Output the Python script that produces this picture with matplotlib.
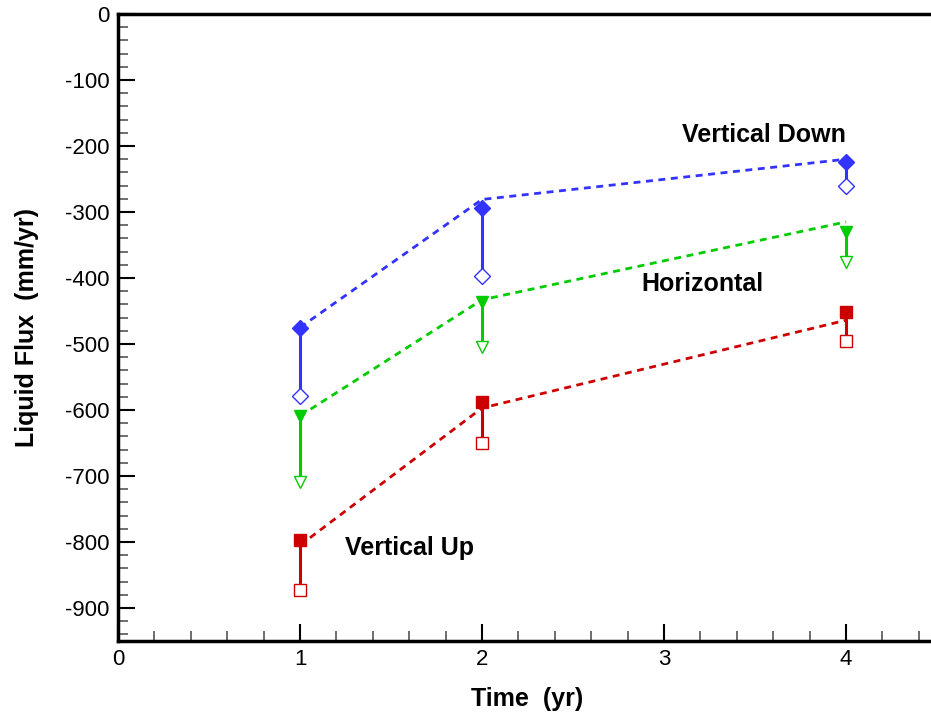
import matplotlib.pyplot as plt
import numpy as np
from matplotlib.ticker import MultipleLocator

plt.rcParams['font.family'] = ['Liberation Sans', 'DejaVu Sans']
plt.rcParams['axes.unicode_minus'] = False

times = [1, 2, 4]
labels = ['Vertical Down', 'Horizontal', 'Vertical Up']
colors = ['#3333ff', '#00cc00', '#cc0000']

# dashed trend line values
down_line = [-475, -281, -220]
horiz_line = [-609, -433, -315]
up_line = [-805, -597, -464]
# filled (upper) markers
down_filled = [-476, -294, -224]
horiz_filled = [-609, -436, -330]
up_filled = [-797, -588, -452]
# open (lower) markers
down_open = [-579, -397, -261]
horiz_open = [-709, -505, -376]
up_open = [-873, -650, -495]

fig = plt.figure(figsize=(9.31, 7.13), dpi=100)
ax = fig.add_axes([118 / 931, 72 / 713, (937 - 118) / 931, (641 - 14) / 713])

series = [
    (down_line, down_filled, down_open, 'D'),
    (horiz_line, horiz_filled, horiz_open, 'v'),
    (up_line, up_filled, up_open, 's'),
]
for (line, filled, opn, m), c in zip(series, colors):
    ax.plot(times, line, color=c, lw=2, linestyle=(0, (2.5, 2)))
    for t, f, o in zip(times, filled, opn):
        ax.plot([t, t], [f, o], color=c, lw=2.2)
    ax.plot(times, filled, linestyle='none', marker=m, ms=8,
            markerfacecolor=c, markeredgecolor=c)
    ax.plot(times, opn, linestyle='none', marker=m, ms=8,
            markerfacecolor='white', markeredgecolor=c, markeredgewidth=1)

ax.text(3.55, -183, labels[0], fontsize=18, fontweight='bold', ha='center', va='center')
ax.text(3.21, -409, labels[1], fontsize=18, fontweight='bold', ha='center', va='center')
ax.text(1.60, -809, labels[2], fontsize=18, fontweight='bold', ha='center', va='center')

ax.set_xlim(0, 4.5)
ax.set_ylim(-950, 0)
ax.xaxis.set_major_locator(MultipleLocator(1))
ax.xaxis.set_minor_locator(MultipleLocator(0.2))
ax.yaxis.set_major_locator(MultipleLocator(100))
ax.yaxis.set_minor_locator(MultipleLocator(20))
ax.tick_params(which='both', direction='in', width=1.5, labelsize=16, top=False, right=False)
ax.tick_params(which='major', length=12, pad=6)
ax.tick_params(which='minor', length=7, width=1.2, color='#555555')
for s in ax.spines.values():
    s.set_linewidth(2.5)

ax.set_xlabel('Time  (yr)', fontsize=18, fontweight='bold', labelpad=12)
ax.set_ylabel('Liquid Flux  (mm/yr)', fontsize=18, fontweight='bold', labelpad=19)

plt.savefig('out.png', dpi=100)
plt.close()
